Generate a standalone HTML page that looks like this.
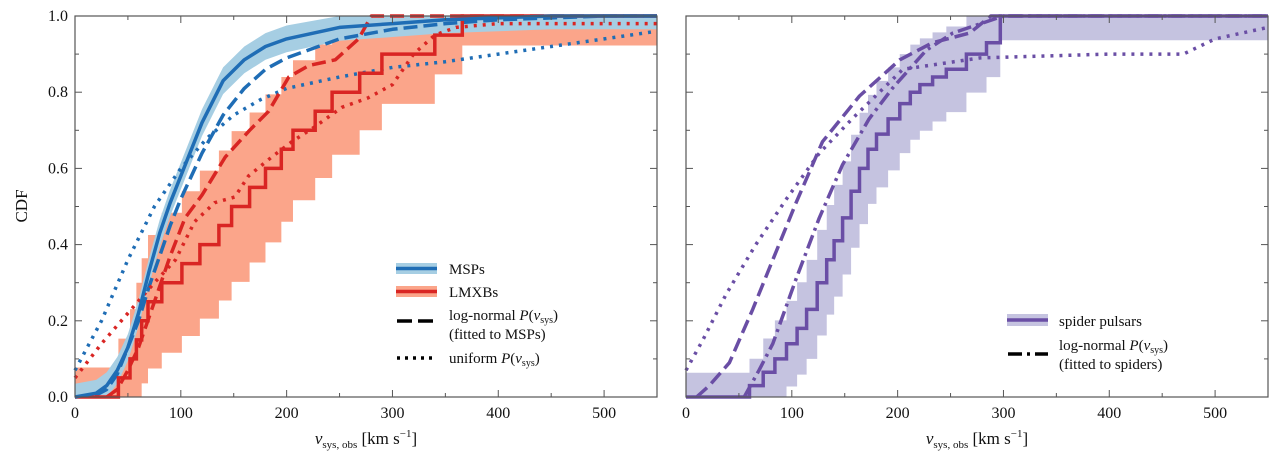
<!DOCTYPE html>
<html><head><meta charset="utf-8"><style>
html,body{margin:0;padding:0;background:#fff;width:1280px;height:463px;overflow:hidden}
svg text{font-family:"Liberation Serif",serif;fill:#111}
</style></head><body>
<svg id="chart" width="1280" height="463" xmlns="http://www.w3.org/2000/svg"></svg>
<script>
// ---- data ----
const xTicks=[0,100,200,300,400,500];
const yTicks=[0.0,0.2,0.4,0.6,0.8,1.0];
const yTickLabels=["0.0","0.2","0.4","0.6","0.8","1.0"];
const mspV=[0,20,30,40,50,60,70,80,90,100,120,140,160,180,200,250,300,350,450,550];
const mspC=[0,0.01,0.03,0.07,0.13,0.22,0.33,0.43,0.51,0.58,0.72,0.83,0.885,0.92,0.94,0.97,0.98,0.99,1.0,1.0];
const mspLnV=[0,20,30,40,50,60,70,80,90,100,120,140,160,180,200,250,300,350,400,500,550];
const mspLnC=[0,0.005,0.02,0.06,0.13,0.2,0.29,0.37,0.45,0.52,0.64,0.74,0.81,0.86,0.89,0.94,0.965,0.98,0.99,1.0,1.0];
const mspUnV=[0,25,50,75,100,125,150,175,200,250,300,350,400,450,500,550];
const mspUnC=[0.07,0.2,0.36,0.5,0.6,0.68,0.74,0.78,0.81,0.84,0.865,0.88,0.9,0.92,0.94,0.96];
const lmxbV=[41,52,58,63,69,82,101,118,136,148,165,180,195,206,227,243,269,290,340,366];
const lmxbLnV=[30,40,50,60,75,90,104,120,142,165,183,202,221,246,268,280,550];
const lmxbLnC=[0,0.02,0.07,0.13,0.25,0.37,0.47,0.53,0.63,0.7,0.75,0.84,0.87,0.885,0.94,1.0,1.0];
const lmxbUnV=[0,25,50,75,95,113,132,151,164,186,205,227,252,277,300,320,340,360,400,550];
const lmxbUnC=[0.05,0.14,0.22,0.3,0.36,0.46,0.51,0.525,0.58,0.63,0.67,0.71,0.76,0.785,0.82,0.9,0.95,0.97,0.98,0.98];
const spV=[0,52,60,73,84,95,105,114,124,133,140,148,156,164,172,180,191,202,212,221,233,246,265,284,297,550];
const spC=[0,0,0.03,0.065,0.1,0.14,0.18,0.23,0.3,0.36,0.41,0.47,0.54,0.6,0.65,0.69,0.73,0.77,0.8,0.82,0.84,0.86,0.9,0.93,1.0,1.0];
const spLnV=[10,22,41,63,82,104,129,164,202,233,268,288,550];
const spLnC=[0,0.03,0.09,0.23,0.36,0.51,0.67,0.79,0.885,0.93,0.955,1.0,1.0];
const spUnV=[0,16,38,66,95,126,157,205,278,400,470,500,550];
const spUnC=[0.07,0.15,0.27,0.4,0.52,0.64,0.73,0.86,0.89,0.9,0.9,0.94,0.97];
const spLdV=[55,69,82,104,126,148,173,195,227,252,268,300,550];
const spLdC=[0,0.07,0.14,0.31,0.47,0.61,0.73,0.81,0.91,0.955,0.97,1.0,1.0];

const NS='http://www.w3.org/2000/svg';
const svg=document.getElementById('chart');
function mk(t,a,p){const e=document.createElementNS(NS,t);for(const k in a)e.setAttribute(k,a[k]);(p||svg).appendChild(e);return e;}
function panel(x0,x1,y0,y1){return {x:v=>x0+(v/550)*(x1-x0), y:c=>y1-c*(y1-y0), x0,x1,y0,y1};}
const L=panel(75,657,16,397), R=panel(686,1268,16,397);

function axes(P,name,showY){
  const g=mk('g',{});
  
  
  for(let v=0;v<=550;v+=50){const X=P.x(v),len=v%100===0?7:4;
    mk('line',{x1:X,x2:X,y1:P.y1,y2:P.y1-len,stroke:'#555','stroke-width':1},g);
    mk('line',{x1:X,x2:X,y1:P.y0,y2:P.y0+len,stroke:'#555','stroke-width':1},g);}
  for(let i=0;i<=10;i++){const c=i/10,Y=P.y(c),len=i%2===0?7:4;
    mk('line',{x1:P.x0,x2:P.x0+len,y1:Y,y2:Y,stroke:'#555','stroke-width':1},g);
    mk('line',{x1:P.x1,x2:P.x1-len,y1:Y,y2:Y,stroke:'#555','stroke-width':1},g);}
  xTicks.forEach(v=>{const t=mk('text',{x:P.x(v),y:P.y1+21,'text-anchor':'middle','font-size':16},g);t.textContent=v;
    });
  if(showY) yTicks.forEach((c,i)=>{const t=mk('text',{x:P.x0-7,y:P.y(c)+5,'text-anchor':'end','font-size':16},g);t.textContent=yTickLabels[i];
    });
  const xl=mk('text',{x:(P.x0+P.x1)/2,y:444,'text-anchor':'middle','font-size':17},g);
  xl.innerHTML='<tspan font-style="italic">v</tspan><tspan font-size="11" dy="4">sys, obs</tspan><tspan dy="-4">  [km s</tspan><tspan font-size="11" dy="-7">−1</tspan><tspan dy="7">]</tspan>';
  
}
function frame(P,name){const r=mk('rect',{x:P.x0,y:P.y0,width:P.x1-P.x0,height:P.y1-P.y0,fill:'none',stroke:'#555','stroke-width':1.2});
  }
function line(P,V,C,color,dash,name,w){
  const d=V.map((v,i)=>(i?'L':'M')+P.x(Math.min(v,550)).toFixed(1)+','+P.y(C[i]).toFixed(1)).join('');
  const p=mk('path',{d,fill:'none',stroke:color,'stroke-width':w||3.5,'stroke-dasharray':dash||'none','stroke-linejoin':'round'});
  return p;
}
function stepPath(P,V,C){let d='M'+P.x(V[0])+','+P.y(C[0]);
  for(let i=1;i<V.length;i++){d+='L'+P.x(V[i]).toFixed(1)+','+P.y(C[i-1]).toFixed(1)+'L'+P.x(V[i]).toFixed(1)+','+P.y(C[i]).toFixed(1);}return d;}
function band(P,V,C,n,color,name){
  const hw=c=>1.5*Math.sqrt(Math.max(c*(1-c),0.02)/n)+0.03;
  const up=C.map(c=>Math.min(1,c+hw(c))), lo=C.map(c=>Math.max(0,c-hw(c)));
  let d='M'+P.x(V[0])+','+P.y(up[0]);
  for(let i=1;i<V.length;i++)d+='L'+P.x(V[i])+','+P.y(up[i-1])+'L'+P.x(V[i])+','+P.y(up[i]);
  for(let i=V.length-1;i>=1;i--)d+='L'+P.x(V[i])+','+P.y(lo[i])+'L'+P.x(V[i])+','+P.y(lo[i-1]);
  d+='L'+P.x(V[0])+','+P.y(lo[0])+'Z';
  const p=mk('path',{d,fill:color,stroke:'none'});
  
}
function smoothBand(P,V,C,hw,color,name){
  let d=V.map((v,i)=>(i?'L':'M')+P.x(v).toFixed(1)+','+P.y(Math.min(1,C[i]+hw)).toFixed(1)).join('');
  for(let i=V.length-1;i>=0;i--)d+='L'+P.x(V[i]).toFixed(1)+','+P.y(Math.max(0,C[i]-hw)).toFixed(1);
  d+='Z';
  const p=mk('path',{d,fill:color,stroke:'none'});
  
}
function steps(P,V,C,color,name){const p=mk('path',{d:stepPath(P,V,C),fill:'none',stroke:color,'stroke-width':3.5});
  }

const lmxbSV=[0].concat(lmxbV,[550]);
const lmxbSC=[0].concat(lmxbV.map((v,i)=>(i+1)/lmxbV.length),[1]);

// ---- left panel ----
band(L,lmxbSV,lmxbSC,20,'#fba58a','lmxb-band');
smoothBand(L,mspV,mspC,0.035,'#a6cee3','msp-band');
line(L,mspUnV,mspUnC,'#1f6db5','3,6','msp-uniform-line');
line(L,mspLnV,mspLnC,'#1f6db5','14,6','msp-lognormal-line');
line(L,lmxbUnV,lmxbUnC,'#d92523','3,6','lmxb-uniform-line');
line(L,lmxbLnV,lmxbLnC,'#d92523','14,6','lmxb-lognormal-line');
steps(L,lmxbSV,lmxbSC,'#d92523','lmxb-cdf-line');
line(L,mspV,mspC,'#1f6db5',null,'msp-cdf-line');
frame(L,'left');axes(L,'left',true);
const yl=mk('text',{x:27,y:206,'text-anchor':'middle','font-size':17,transform:'rotate(-90 27 206)'});yl.textContent='CDF';


// ---- right panel ----
band(R,spV,spC,40,'#c5c3e0','spider-band');
line(R,spUnV,spUnC,'#6a4ea5','3,6','spider-uniform-line');
line(R,spLnV,spLnC,'#6a4ea5','14,6','spider-lognormal-line');
line(R,spLdV,spLdC,'#6a4ea5','14,5,3,5','spider-fit-line');
steps(R,spV,spC,'#6a4ea5','spider-cdf-line');
frame(R,'right');axes(R,'right',false);

// ---- legends ----
function legText(x,y,html,name){const t=mk('text',{x,y,'font-size':15});t.innerHTML=html;
  }
const P='<tspan font-style="italic">P</tspan>(<tspan font-style="italic">v</tspan><tspan font-size="10" dy="3">sys</tspan><tspan dy="-3">)</tspan>';
let g=mk('g',{});
mk('rect',{x:396,y:263,width:41,height:11,fill:'#a6cee3'},g);mk('line',{x1:396,x2:437,y1:268.5,y2:268.5,stroke:'#1f6db5','stroke-width':3.5},g);
mk('rect',{x:396,y:286,width:41,height:11,fill:'#fba58a'},g);mk('line',{x1:396,x2:437,y1:291.5,y2:291.5,stroke:'#d92523','stroke-width':3.5},g);
mk('line',{x1:397,x2:437,y1:321,y2:321,stroke:'#000','stroke-width':3.5,'stroke-dasharray':'15,6'},g);
mk('line',{x1:397,x2:437,y1:358,y2:358,stroke:'#000','stroke-width':3.5,'stroke-dasharray':'3,5'},g);
legText(449,274,'MSPs','legend-msps');legText(449,297,'LMXBs','legend-lmxbs');
legText(449,320,'log-normal '+P,'legend-lognormal');legText(449,339,'(fitted to MSPs)','legend-lognormal-sub');
legText(449,363,'uniform '+P,'legend-uniform');
g=mk('g',{});
mk('rect',{x:1007,y:314,width:41,height:12,fill:'#c5c3e0'},g);mk('line',{x1:1007,x2:1048,y1:320,y2:320,stroke:'#6a4ea5','stroke-width':3.5},g);
mk('line',{x1:1008,x2:1048,y1:354,y2:354,stroke:'#000','stroke-width':3.5,'stroke-dasharray':'14,5,3,5'},g);
legText(1059,326,'spider pulsars','legend-spiders');
legText(1059,350,'log-normal '+P,'legend-spider-lognormal');legText(1059,369,'(fitted to spiders)','legend-spider-lognormal-sub');
</script>
</body></html>
